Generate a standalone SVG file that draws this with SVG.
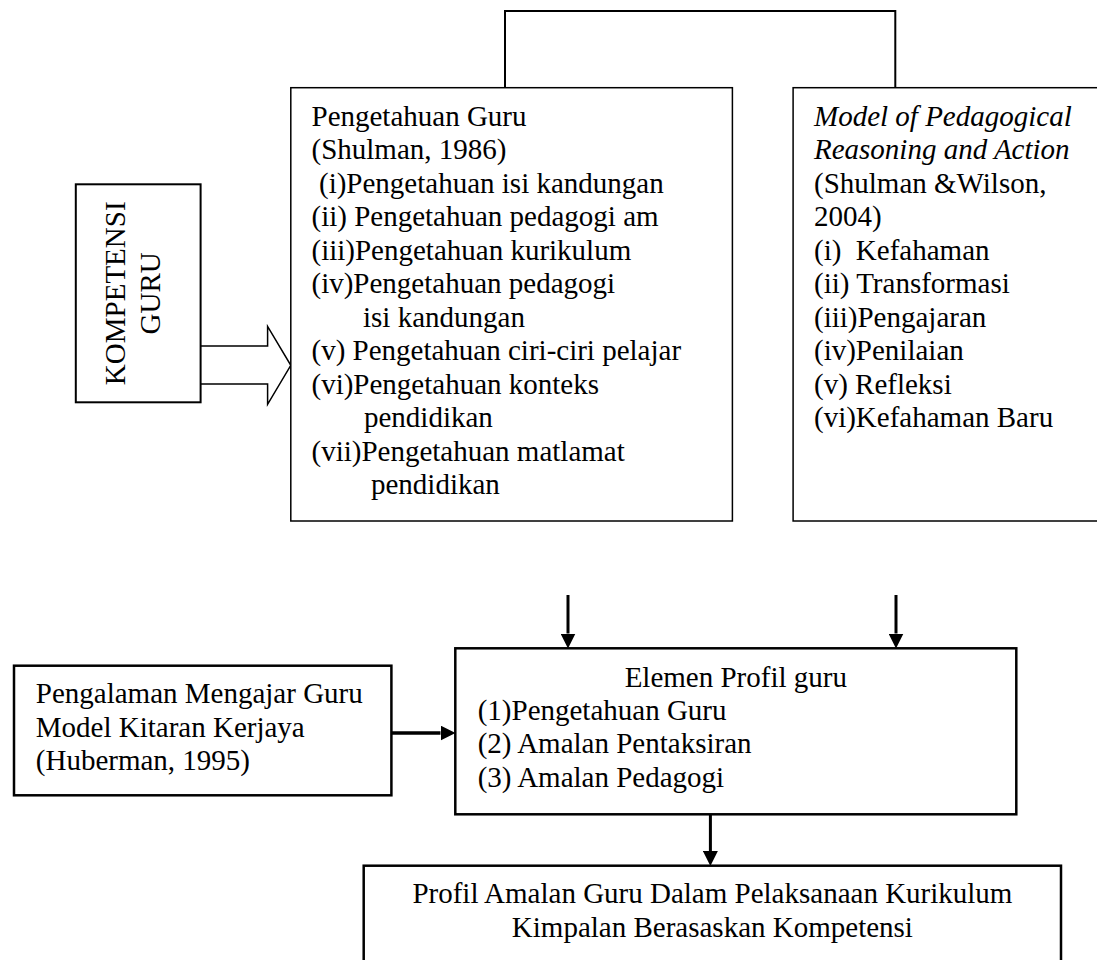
<svg xmlns="http://www.w3.org/2000/svg" width="1097" height="960" viewBox="0 0 1097 960">
  <style>
    text { font-family: "Liberation Serif", "Times New Roman", serif; font-size: 29px; fill: #000; }
    .it { font-style: italic; }
    .box { fill: #fff; stroke: #000; }
    .thin { stroke-width: 1.5; }
    .mid { stroke-width: 2; }
    .thick { stroke-width: 2.5; }
    .conn { fill: none; stroke: #000; }
  </style>
  <defs>
    <marker id="ah" viewBox="0 0 10 10" refX="0" refY="5" markerWidth="15" markerHeight="15" markerUnits="userSpaceOnUse" orient="auto">
      <path d="M0,0 L10,5 L0,10 z" fill="#000"/>
    </marker>
  </defs>
  <rect width="1097" height="960" fill="#fff"/>

  <g id="connectors">
    <path class="conn" stroke-width="2" d="M505,88 V11 H895.3 V88"/>
    <path id="block-arrow" fill="#fff" stroke="#000" stroke-width="1.5" d="M200.6,346 H267.6 V326.4 L290.8,365.3 L267.6,404.3 V384 H200.6"/>
    <line class="conn" stroke-width="3" x1="568" y1="595" x2="568" y2="633.5" marker-end="url(#ah)"/>
    <line class="conn" stroke-width="3" x1="896" y1="595" x2="896" y2="633.5" marker-end="url(#ah)"/>
    <line class="conn" stroke-width="3.5" x1="391.4" y1="733" x2="440.5" y2="733" marker-end="url(#ah)"/>
    <line class="conn" stroke-width="3" x1="710.4" y1="814.3" x2="710.4" y2="851" marker-end="url(#ah)"/>
  </g>

  <g id="kompetensi">
    <rect class="box mid" x="75.8" y="184.3" width="124.8" height="218"/>
    <text transform="translate(124.5,293.3) rotate(-90)" text-anchor="middle">KOMPETENSI</text>
    <text transform="translate(159.6,293.3) rotate(-90)" text-anchor="middle">GURU</text>
  </g>

  <g id="pengetahuan">
    <rect class="box thin" x="290.8" y="87.7" width="441.6" height="433.3"/>
    <text x="311.5" y="125.7">Pengetahuan Guru</text>
    <text x="311.5" y="159.2">(Shulman, 1986)</text>
    <text x="319" y="192.7">(i)Pengetahuan isi kandungan</text>
    <text x="311.5" y="226.2">(ii) Pengetahuan pedagogi am</text>
    <text x="311.5" y="259.7">(iii)Pengetahuan kurikulum</text>
    <text x="311.5" y="293.2">(iv)Pengetahuan pedagogi</text>
    <text x="363" y="326.7">isi kandungan</text>
    <text x="311.5" y="360.2">(v) Pengetahuan ciri-ciri pelajar</text>
    <text x="311.5" y="393.7">(vi)Pengetahuan konteks</text>
    <text x="364" y="427.2">pendidikan</text>
    <text x="311.5" y="460.7">(vii)Pengetahuan matlamat</text>
    <text x="371" y="494.2">pendidikan</text>
  </g>

  <g id="model">
    <rect class="box thin" x="793.1" y="87.7" width="320" height="433.3"/>
    <text class="it" x="814" y="125.7">Model of Pedagogical</text>
    <text class="it" x="814" y="159.2">Reasoning and Action</text>
    <text x="814" y="192.7">(Shulman &amp;Wilson,</text>
    <text x="814" y="226.2">2004)</text>
    <text x="814" y="259.7" xml:space="preserve">(i)  Kefahaman</text>
    <text x="814" y="293.2">(ii) Transformasi</text>
    <text x="814" y="326.7">(iii)Pengajaran</text>
    <text x="814" y="360.2">(iv)Penilaian</text>
    <text x="814" y="393.7">(v) Refleksi</text>
    <text x="814" y="427.2">(vi)Kefahaman Baru</text>
  </g>

  <g id="pengalaman">
    <rect class="box thick" x="14" y="665.7" width="377.4" height="129.6"/>
    <text x="35.8" y="703.3">Pengalaman Mengajar Guru</text>
    <text x="35.8" y="736.7">Model Kitaran Kerjaya</text>
    <text x="35.8" y="770">(Huberman, 1995)</text>
  </g>

  <g id="elemen">
    <rect class="box thick" x="455.3" y="648.3" width="561" height="166"/>
    <text x="735.8" y="687.3" text-anchor="middle">Elemen Profil guru</text>
    <text x="477.7" y="720">(1)Pengetahuan Guru</text>
    <text x="477.7" y="753.3">(2) Amalan Pentaksiran</text>
    <text x="477.7" y="787.3">(3) Amalan Pedagogi</text>
  </g>

  <g id="profil">
    <rect class="box thick" x="363.7" y="865.7" width="697.3" height="120"/>
    <text x="712.4" y="903.3" text-anchor="middle">Profil Amalan Guru Dalam Pelaksanaan Kurikulum</text>
    <text x="712.4" y="936.7" text-anchor="middle">Kimpalan Berasaskan Kompetensi</text>
  </g>
</svg>
